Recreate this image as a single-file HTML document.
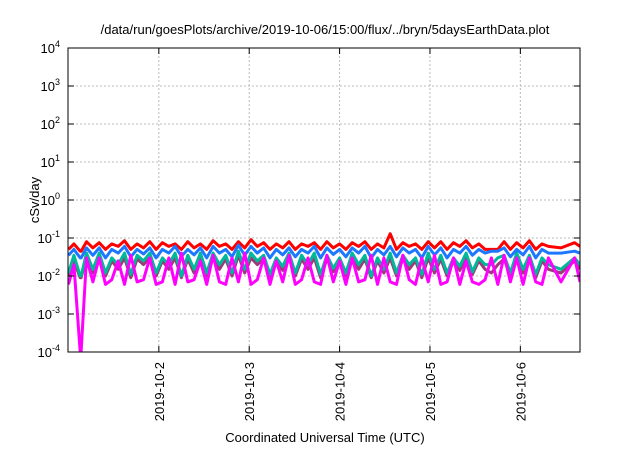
<!DOCTYPE html>
<html><head><meta charset="utf-8"><style>
body{margin:0;background:#fff;}
svg text{font-family:"Liberation Sans",sans-serif;fill:#000;}
</style></head><body>
<svg id="chart" width="640" height="448" xmlns="http://www.w3.org/2000/svg">
<rect width="640" height="448" fill="#fff"/>
<text x="325" y="34" font-size="13" text-anchor="middle">/data/run/goesPlots/archive/2019-10-06/15:00/flux/../bryn/5daysEarthData.plot</text>
<g id="grid"></g>
<g id="series" clip-path="url(#clip)"></g>
<clipPath id="clip"><rect x="68" y="48" width="512" height="304"/></clipPath>
<rect x="68" y="48" width="512" height="304" fill="none" stroke="#000" stroke-width="1"/>
<g id="axes"></g>
<text transform="translate(39,200) rotate(-90)" font-size="13" text-anchor="middle">cSv/day</text>
<text x="325" y="442" font-size="13" text-anchor="middle">Coordinated Universal Time (UTC)</text>
</svg>
<script>
const yTicks=[-4,-3,-2,-1,0,1,2,3,4];
const xTickDays=[1,2,3,4,5];
const xTickLabels=["2019-10-2","2019-10-3","2019-10-4","2019-10-5","2019-10-6"];
const times=[0,0.06,0.13,0.14,0.2,
0.27,0.34,0.41,0.48,0.55,0.62,0.69,0.76,0.83,0.90,0.97,1.04,1.11,1.18,1.25,1.32,1.39,1.46,1.53,1.60,1.67,1.74,1.81,1.88,1.95,2.02,2.09,2.16,2.23,2.30,2.37,2.44,2.51,2.58,2.65,2.72,2.79,2.86,2.93,3.00,3.07,3.14,3.21,3.28,3.35,3.42,3.49,3.56,3.63,3.70,3.77,3.84,3.91,3.98,4.05,4.12,4.19,4.26,4.33,4.40,4.47,4.54,4.61,4.68,4.75,4.82,4.89,4.96,5.03,5.10,5.17,5.24,5.31,
5.45,5.6,5.66];
const red=[0.05,0.07,0.045,0.045,0.08,
0.055,0.075,0.05,0.07,0.06,0.085,0.05,0.07,0.055,0.08,
0.05,0.075,0.06,0.07,0.05,0.08,0.055,0.07,0.05,0.085,
0.06,0.07,0.05,0.08,0.055,0.09,0.06,0.075,0.05,0.07,
0.055,0.08,0.05,0.07,0.06,0.075,0.05,0.08,0.055,0.07,
0.05,0.075,0.06,0.08,0.05,0.07,0.055,0.13,0.05,0.075,
0.06,0.07,0.05,0.08,0.055,0.08,0.05,0.075,0.06,0.085,
0.055,0.07,0.05,0.05,0.05,0.08,0.05,0.075,0.055,0.085,
0.05,0.07,0.06,
0.055,0.075,0.06];
const blue=[0.035,0.05,0.03,0.03,0.055,
0.035,0.055,0.03,0.05,0.04,0.06,0.032,0.05,0.038,0.055,
0.03,0.05,0.04,0.06,0.033,0.05,0.036,0.055,0.03,0.06,
0.04,0.05,0.032,0.065,0.035,0.06,0.04,0.055,0.03,0.05,
0.036,0.055,0.032,0.05,0.04,0.06,0.03,0.055,0.037,0.05,
0.032,0.055,0.04,0.06,0.03,0.05,0.036,0.06,0.032,0.055,
0.04,0.05,0.03,0.06,0.036,0.055,0.03,0.05,0.04,0.06,
0.035,0.05,0.04,0.045,0.045,0.055,0.032,0.05,0.036,0.06,
0.03,0.05,0.04,
0.04,0.045,0.04];
const teal=[0.012,0.035,0.01,0.01,0.04,
0.015,0.04,0.012,0.03,0.02,0.04,0.011,0.035,0.025,0.04,
0.012,0.03,0.02,0.04,0.01,0.035,0.015,0.04,0.012,0.04,
0.02,0.035,0.012,0.045,0.015,0.04,0.025,0.035,0.011,0.03,
0.018,0.04,0.012,0.035,0.02,0.04,0.011,0.035,0.016,0.03,
0.012,0.04,0.02,0.035,0.01,0.03,0.015,0.04,0.012,0.035,
0.02,0.03,0.011,0.04,0.015,0.035,0.012,0.03,0.018,0.04,
0.013,0.03,0.02,0.02,0.03,0.035,0.012,0.04,0.015,0.035,
0.011,0.03,0.02,
0.015,0.03,0.02];
const purple=[0.01,0.025,0.009,0.009,0.03,
0.012,0.03,0.01,0.025,0.015,0.03,0.009,0.028,0.02,0.03,
0.01,0.025,0.015,0.03,0.009,0.028,0.012,0.03,0.01,0.03,
0.015,0.028,0.01,0.035,0.012,0.03,0.02,0.028,0.009,0.025,
0.014,0.03,0.01,0.028,0.015,0.03,0.009,0.028,0.013,0.025,
0.01,0.03,0.015,0.028,0.009,0.025,0.012,0.03,0.01,0.028,
0.015,0.025,0.009,0.03,0.012,0.028,0.01,0.025,0.014,0.03,
0.011,0.025,0.015,0.012,0.02,0.028,0.01,0.03,0.012,0.028,
0.009,0.025,0.015,
0.012,0.025,0.015];
const magenta=[0.006,0.02,0.0001,0.0001,0.03,
0.007,0.03,0.006,0.008,0.025,0.006,0.035,0.007,0.008,0.03,
0.006,0.007,0.03,0.006,0.04,0.007,0.008,0.025,0.006,0.035,
0.007,0.006,0.03,0.007,0.04,0.006,0.008,0.03,0.006,0.025,
0.007,0.035,0.006,0.008,0.03,0.007,0.006,0.035,0.007,0.025,
0.006,0.03,0.007,0.008,0.035,0.006,0.03,0.007,0.006,0.035,
0.008,0.006,0.03,0.007,0.035,0.006,0.007,0.03,0.006,0.025,
0.007,0.006,0.008,0.03,0.006,0.035,0.007,0.03,0.006,0.03,
0.007,0.006,0.03,
0.007,0.03,0.007];
const X0=68,X1=580,Y0=48,Y1=352,D0=-0.005,D1=5.66,L0=-4,L1=4;
function sx(d){return X0+(d-D0)/(D1-D0)*(X1-X0);}
function sy(v){return Y1-(Math.log10(v)-L0)/(L1-L0)*(Y1-Y0);}
const NS="http://www.w3.org/2000/svg";
const grid=document.getElementById('grid'),axes=document.getElementById('axes'),ser=document.getElementById('series');
function mk(tag,attrs,parent){const e=document.createElementNS(NS,tag);for(const k in attrs)e.setAttribute(k,attrs[k]);parent.appendChild(e);return e;}
yTicks.forEach(p=>{const y=sy(Math.pow(10,p));
 if(p>L0&&p<L1){const g=mk('line',{x1:X0,x2:X1,y1:y,y2:y,stroke:'#bbb','stroke-dasharray':'2,2','stroke-width':1},grid);
 
 }
 const t1=mk('line',{x1:X0,x2:X0+6,y1:y,y2:y,stroke:'#000'},axes);
 
 
 const t2=mk('line',{x1:X1-6,x2:X1,y1:y,y2:y,stroke:'#000'},axes);
 
 
 const tx=mk('text',{x:X0-8,y:y+5,'font-size':13,'text-anchor':'end'},axes);
 
 
 tx.textContent='10';const s=mk('tspan',{dy:-6,'font-size':9},tx);s.textContent=String(p);
});
xTickDays.forEach((d,i)=>{const x=sx(d);
 const g=mk('line',{x1:x,x2:x,y1:Y0,y2:Y1,stroke:'#bbb','stroke-dasharray':'2,2'},grid);
 
 
 const t=mk('line',{x1:x,x2:x,y1:Y1-6,y2:Y1,stroke:'#000'},axes);
 
 
 const t2=mk('line',{x1:x,x2:x,y1:Y0,y2:Y0+6,stroke:'#000'},axes);
 
 
 const tx=mk('text',{transform:`translate(${x+5},${Y1+10}) rotate(-90)`,'font-size':13,'text-anchor':'end'},axes);
 
 
 tx.textContent=xTickLabels[i];
});
const seriesList=[['red',red,'#ff0000'],['purple',purple,'#9b3c78'],['teal',teal,'#00b89a'],['blue',blue,'#1e78ff'],['magenta',magenta,'#ff00ff']];
seriesList.forEach(([n,arr,c])=>{
 const pts=arr.map((v,i)=>sx(times[i]).toFixed(1)+','+sy(v).toFixed(1)).join(' ');
 const pl=mk('polyline',{points:pts,fill:'none',stroke:c,'stroke-width':3,'stroke-linejoin':'round'},ser);
 
 
});
</script>
</body></html>
